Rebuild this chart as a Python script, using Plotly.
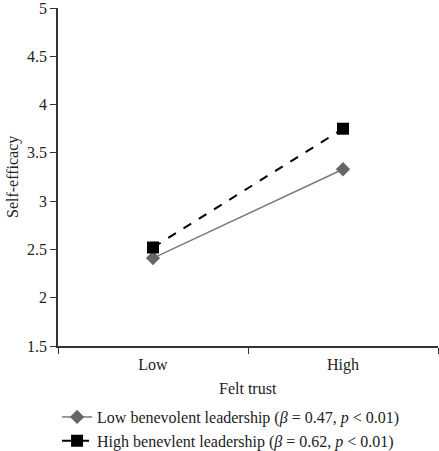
import plotly.graph_objects as go

categories = ["Low", "High"]
low_benevolent = [2.41, 3.33]
high_benevolent = [2.52, 3.75]
y_ticks = [1.5, 2, 2.5, 3, 3.5, 4, 4.5, 5]
y_tick_labels = ["1.5", "2", "2.5", "3", "3.5", "4", "4.5", "5"]

font_family = "Liberation Serif, Times New Roman, serif"

W, H = 439, 451
ML, MR, MT, MB = 58, 1, 8, 105
plot_w = W - ML - MR
plot_h = H - MT - MB

fig = go.Figure()
fig.add_trace(go.Scatter(
    x=categories, y=low_benevolent, mode="lines+markers",
    name="Low benevolent leadership (<i>β</i> = 0.47, <i>p</i> &lt; 0.01)",
    line=dict(color="#7a7a7a", width=1.5),
    marker=dict(symbol="diamond", size=11, color="#666666"),
))
fig.add_trace(go.Scatter(
    x=categories, y=high_benevolent, mode="lines+markers",
    name="High benevlent leadership (<i>β</i> = 0.62, <i>p</i> &lt; 0.01)",
    line=dict(color="#000000", width=2, dash="dash"),
    marker=dict(symbol="square", size=12, color="#000000"),
))

fig.update_layout(
    width=W, height=H,
    margin=dict(l=ML, r=MR, t=MT, b=MB, autoexpand=False),
    paper_bgcolor="white", plot_bgcolor="white",
    font=dict(family=font_family, size=16, color="#222"),
    showlegend=True,
    legend=dict(
        xref="container", yref="container",
        x=0.13, y=0.113, xanchor="left", yanchor="top",
        orientation="v", font=dict(size=16, color="#222"),
        tracegroupgap=0, itemwidth=30, bgcolor="rgba(0,0,0,0)",
    ),
    xaxis=dict(
        type="category", range=[-0.5, 1.5], tickson="boundaries",
        showline=True, linecolor="#333", linewidth=1.5,
        ticks="outside", ticklen=6, tickcolor="#333", ticklabelstandoff=3,
        showgrid=False, zeroline=False, automargin=False,
    ),
    yaxis=dict(
        range=[1.5, 5], tickvals=y_ticks, ticktext=y_tick_labels,
        showline=True, linecolor="#333", linewidth=1.5,
        ticks="outside", ticklen=6, tickcolor="#333",
        showgrid=False, zeroline=False, automargin=False,
        ticklabeloverflow="allow",
    ),
    annotations=[
        dict(text="Felt trust", xref="paper", yref="paper",
             x=0.5, y=-(388 - (H - MB)) / plot_h, xanchor="center", yanchor="middle",
             showarrow=False, font=dict(size=16)),
        dict(text="Self-efficacy", xref="paper", yref="paper",
             x=(13 - ML) / plot_w, y=0.5, xanchor="center", yanchor="middle",
             textangle=-90, showarrow=False, font=dict(size=16)),
    ],
)

fig.write_html("out.html")
